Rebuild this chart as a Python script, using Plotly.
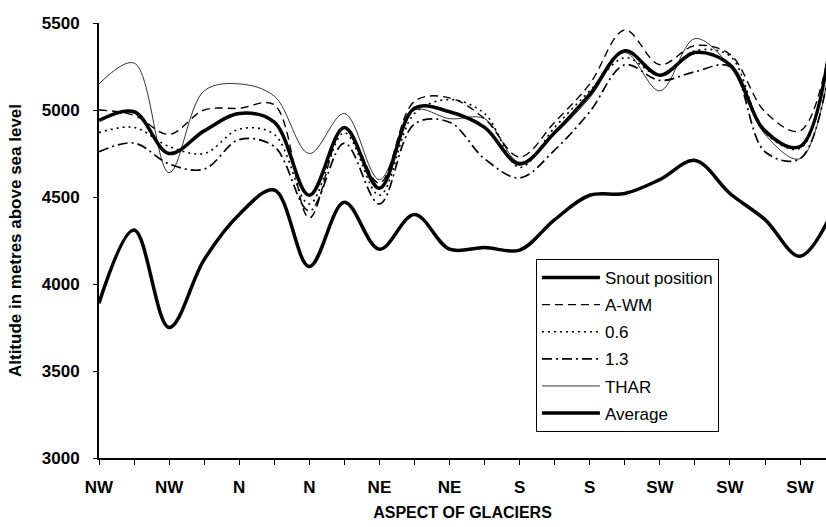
import plotly.graph_objects as go

# positions of glaciers along the axis (category index)
idx = list(range(22))
tick_labels = ["NW", "", "NW", "", "N", "", "N", "", "NE", "", "NE", "", "S", "", "S", "", "SW", "", "SW", "", "SW"]

snout = [3890, 4310, 3750, 4140, 4400, 4540, 4100, 4470, 4200, 4400, 4200, 4210,
         4195, 4370, 4510, 4520, 4600, 4710, 4520, 4370, 4160, 4450]
a_wm = [5000, 4970, 4860, 5000, 5010, 5030, 4380, 4900, 4580, 5050, 5070, 4950,
        4730, 4930, 5150, 5460, 5260, 5370, 5320, 4990, 4880, 5520]
p06 = [4870, 4900, 4790, 4750, 4890, 4860, 4460, 4870, 4510, 4980, 5060, 4980,
       4670, 4900, 5110, 5300, 5200, 5340, 5310, 4870, 4780, 5540]
p13 = [4760, 4810, 4690, 4660, 4830, 4790, 4420, 4810, 4460, 4920, 4930, 4720,
       4610, 4770, 4990, 5260, 5170, 5220, 5250, 4760, 4720, 5450]
thar = [5150, 5270, 4640, 5110, 5150, 5080, 4750, 4980, 4600, 5000, 4950, 4950,
        4700, 4860, 5070, 5330, 5110, 5410, 5250, 4860, 4720, 5440]
average = [4940, 4990, 4750, 4880, 4980, 4930, 4510, 4900, 4550, 5010, 4990, 4900,
           4690, 4870, 5090, 5340, 5200, 5330, 5260, 4880, 4790, 5580]

series = [
    ("Snout position", snout, dict(color="black", width=3.5)),
    ("A-WM", a_wm, dict(color="black", width=1.4, dash="8px,5px")),
    ("0.6", p06, dict(color="black", width=1.6, dash="2px,4px")),
    ("1.3", p13, dict(color="black", width=1.7, dash="10px,4px,2px,4px")),
    ("THAR", thar, dict(color="black", width=0.8)),
    ("Average", average, dict(color="black", width=3.5)),
]

fig = go.Figure()
for i, (name, vals, line) in enumerate(series):
    fig.add_trace(go.Scatter(
        x=idx, y=vals, mode="lines", name=name,
        line=dict(shape="spline", smoothing=1.0, **line),
        legendgroup=f"g{i}",
    ))

FAM = "Liberation Sans, Arial, sans-serif"

fig.update_layout(
    width=826, height=527,
    margin=dict(l=99, r=0, t=23, b=69),
    paper_bgcolor="white", plot_bgcolor="white",
    font=dict(family=FAM, size=14, color="black"),
    showlegend=True,
    legend=dict(
        x=0.601, y=0.4575, xanchor="left", yanchor="top",
        bordercolor="black", borderwidth=1, bgcolor="white",
        font=dict(family=FAM, size=17, color="black"),
        tracegroupgap=2, traceorder="grouped",
        itemwidth=58,
    ),
    xaxis=dict(
        range=[0, 20.74], tickmode="array", tickvals=list(range(21)), ticktext=tick_labels,
        ticks="outside", ticklen=5, tickwidth=1, tickcolor="black",
        showline=True, linecolor="black", linewidth=2,
        showgrid=False, zeroline=False,
        tickfont=dict(family=FAM, size=17, color="black", weight="bold"),
        ticklabelstandoff=8,
        title=dict(text="<b>ASPECT OF GLACIERS</b>", standoff=10,
                   font=dict(family=FAM, size=16, color="black")),
    ),
    yaxis=dict(
        range=[3000, 5500], tickvals=[3000, 3500, 4000, 4500, 5000, 5500],
        ticks="outside", ticklen=4, tickwidth=1, tickcolor="black",
        showline=True, linecolor="black", linewidth=2,
        showgrid=False, zeroline=False,
        tickfont=dict(family=FAM, size=17, color="black", weight="bold"),
        ticklabelstandoff=10,
        title=dict(text="<b>Altitude in metres above sea level</b>", standoff=16,
                   font=dict(family=FAM, size=17, color="black")),
    ),
)

fig.write_html("out.html")
